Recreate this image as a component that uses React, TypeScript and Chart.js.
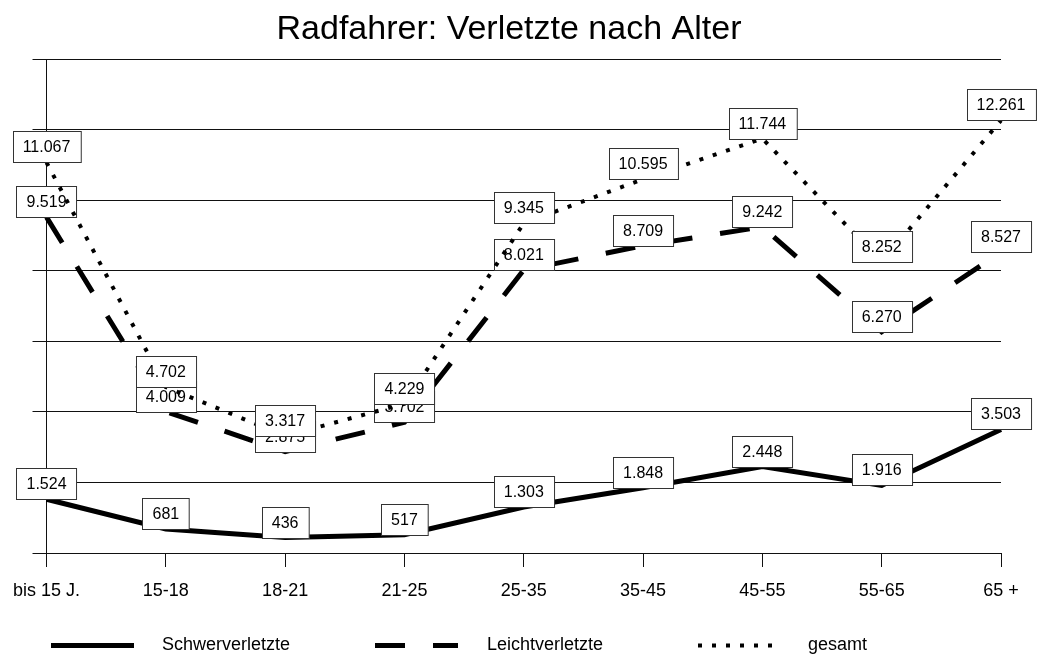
import React, { useEffect, useRef } from "react";
import { Chart, registerables } from "chart.js";

Chart.register(...registerables);

const title = "Radfahrer: Verletzte nach Alter";
const categories = ["bis 15 J.", "15-18", "18-21", "21-25", "25-35", "35-45", "45-55", "55-65", "65 +"];
const schwerverletzte = [1524, 681, 436, 517, 1303, 1848, 2448, 1916, 3503];
const leichtverletzte = [9519, 4009, 2875, 3702, 8021, 8709, 9242, 6270, 8527];
const gesamt = [11067, 4702, 3317, 4229, 9345, 10595, 11744, 8252, 12261];
const seriesNames = ["Schwerverletzte", "Leichtverletzte", "gesamt"];

const FONT = "'Liberation Sans', Arial, sans-serif";
const fmt = (v: number) => v.toLocaleString("de-DE");

const dashes: number[][] = [[], [30, 28], [4, 10]];

const labelPlugin = {
  id: "boxLabels",
  afterDatasetDraw(chart: any, args: any) {
    const ctx = chart.ctx;
    const meta = args.meta;
    const ds = chart.data.datasets[args.index];
    ctx.save();
    ctx.font = `16px ${FONT}`;
    ctx.textAlign = "center";
    ctx.textBaseline = "middle";
    meta.data.forEach((pt: any, i: number) => {
      const txt = fmt(ds.data[i]);
      const w = ctx.measureText(txt).width + 20;
      const h = 31;
      const x = Math.round(pt.x - w / 2) + 0.5;
      const y = Math.round(pt.y - h) + 0.5;
      ctx.fillStyle = "#ffffff";
      ctx.fillRect(x, y, w, h);
      ctx.strokeStyle = "#333";
      ctx.lineWidth = 1;
      ctx.strokeRect(x, y, w, h);
      ctx.fillStyle = "#000";
      ctx.fillText(txt, pt.x, y + h / 2 + 1);
    });
    ctx.restore();
  },
};

const decorPlugin = {
  id: "decor",
  afterDraw(chart: any) {
    const ctx = chart.ctx;
    ctx.save();
    // title
    ctx.font = `34px ${FONT}`;
    ctx.fillStyle = "#000";
    ctx.textAlign = "center";
    ctx.textBaseline = "alphabetic";
    ctx.fillText(title, 509, 39);
    // legend
    const items = [
      { x0: 51, x1: 134, tx: 162 },
      { x0: 375, x1: 458, tx: 487 },
      { x0: 698, x1: 780, tx: 808 },
    ];
    const ly = 645.5;
    items.forEach((it, i) => {
      ctx.beginPath();
      ctx.setLineDash(dashes[i]);
      ctx.lineCap = "butt";
      ctx.lineWidth = i === 2 ? 4 : 5;
      ctx.strokeStyle = "#000";
      ctx.moveTo(it.x0, ly);
      ctx.lineTo(it.x1, ly);
      ctx.stroke();
      ctx.setLineDash([]);
      ctx.font = `18px ${FONT}`;
      ctx.textAlign = "left";
      ctx.textBaseline = "middle";
      ctx.fillStyle = "#000";
      ctx.fillText(seriesNames[i], it.tx, ly);
    });
    ctx.restore();
  },
};

export default function App() {
  const ref = useRef<HTMLCanvasElement>(null);
  useEffect(() => {
    document.body.style.margin = "0";
    const canvas = ref.current;
    if (!canvas) return;
    const values = [schwerverletzte, leichtverletzte, gesamt];
    const chart = new Chart(canvas, {
      type: "line",
      data: {
        labels: categories,
        datasets: values.map((d, i) => ({
          label: seriesNames[i],
          data: d,
          borderColor: "#000",
          backgroundColor: "#000",
          borderWidth: i === 2 ? 4 : 5,
          borderDash: dashes[i],
          borderCapStyle: "butt" as const,
          pointRadius: 0,
          tension: 0,
          fill: false,
          order: 3 - i,
        })),
      },
      options: {
        responsive: false,
        animation: false,
        events: [],
        layout: { padding: { left: 32, right: 36, top: 59, bottom: 54 } },
        plugins: {
          legend: { display: false },
          title: { display: false },
          tooltip: { enabled: false },
        },
        scales: {
          x: {
            offset: false,
            afterFit: (s: any) => {
              s.height = 50;
            },
            grid: {
              drawOnChartArea: false,
              drawTicks: true,
              tickLength: 14,
              color: "#111",
            },
            border: { display: true, color: "#111" },
            ticks: {
              color: "#000",
              font: { family: FONT, size: 18 },
              padding: 13,
              maxRotation: 0,
              autoSkip: false,
            },
          },
          y: {
            min: 0,
            max: 14000,
            afterFit: (s: any) => {
              s.width = 14;
            },
            grid: {
              drawOnChartArea: true,
              drawTicks: true,
              tickLength: 14,
              color: "#111",
            },
            border: { display: true, color: "#111" },
            ticks: { display: false, stepSize: 2000 },
          },
        },
      },
      plugins: [labelPlugin, decorPlugin],
    });
    return () => chart.destroy();
  }, []);
  return (
    <div style={{ width: 1037, height: 657 }}>
      <canvas ref={ref} width={1037} height={657} style={{ display: "block" }} />
    </div>
  );
}
